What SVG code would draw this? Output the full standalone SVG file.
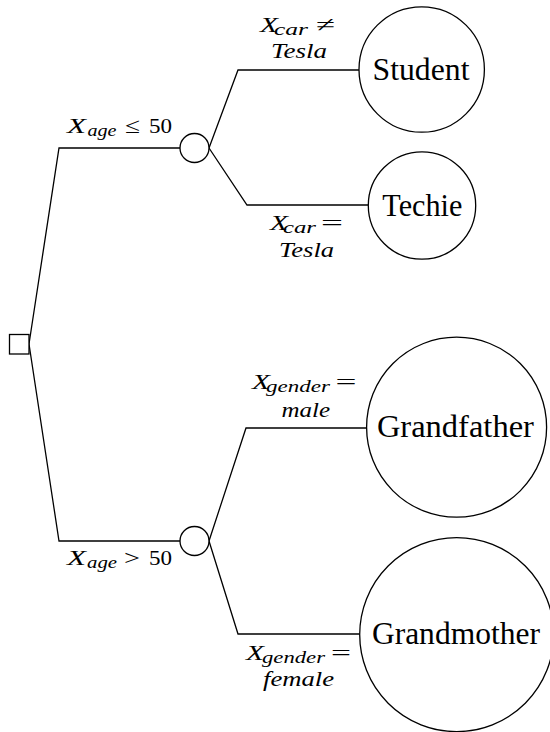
<svg xmlns="http://www.w3.org/2000/svg" width="550" height="732" viewBox="0 0 550 732">
  <style>
    .edge { fill: none; stroke: #000; stroke-width: 1.3; stroke-linejoin: miter; }
    .node { fill: #fff; stroke: #000; stroke-width: 1.3; }
    .serif { font-family: "Liberation Serif", serif; fill: #000; }
    .leaf-label { font-size: 31px; text-anchor: middle; }
    .m { font-style: italic; font-size: 22px; }
    .sub { font-style: italic; font-size: 17px; }
    .op { font-size: 22px; }
  </style>
  <rect width="550" height="732" fill="#fff"/>

  <!-- connectors -->
  <g id="connectors">
    <polyline class="edge" points="29,344 59,148 180,148"/>
    <polyline class="edge" points="29,344 59,541 180,541"/>
    <polyline class="edge" points="209,148 238,70 359,70"/>
    <polyline class="edge" points="209,148 247,205 368,205"/>
    <polyline class="edge" points="209,541 246,428 366.5,428"/>
    <polyline class="edge" points="209,541 238,634 359.5,634"/>
  </g>

  <!-- edge labels -->
  <g id="edge-labels" class="serif">
    <text class="m" x="67" y="133" textLength="19" lengthAdjust="spacingAndGlyphs">X</text>
    <text class="sub" x="87.5" y="136" textLength="29" lengthAdjust="spacingAndGlyphs">age</text>
    <text class="op" x="125" y="133" textLength="15" lengthAdjust="spacingAndGlyphs">≤</text>
    <text class="op" x="149" y="133" textLength="23" lengthAdjust="spacingAndGlyphs">50</text>

    <text class="m" x="67" y="565" textLength="19" lengthAdjust="spacingAndGlyphs">X</text>
    <text class="sub" x="87" y="568" textLength="30" lengthAdjust="spacingAndGlyphs">age</text>
    <text class="op" x="124" y="565" textLength="16" lengthAdjust="spacingAndGlyphs">&gt;</text>
    <text class="op" x="149" y="565" textLength="23" lengthAdjust="spacingAndGlyphs">50</text>

    <text class="m" x="260" y="32" textLength="18" lengthAdjust="spacingAndGlyphs">X</text>
    <text class="sub" x="274" y="35" textLength="34" lengthAdjust="spacingAndGlyphs">car</text>
    <text class="op" x="316" y="32" textLength="19" lengthAdjust="spacingAndGlyphs">≠</text>
    <text class="m" x="271" y="58" textLength="56" lengthAdjust="spacingAndGlyphs">Tesla</text>

    <text class="m" x="270" y="230" textLength="18" lengthAdjust="spacingAndGlyphs">X</text>
    <text class="sub" x="283" y="233" textLength="33" lengthAdjust="spacingAndGlyphs">car</text>
    <text class="op" x="321" y="230" textLength="22" lengthAdjust="spacingAndGlyphs">=</text>
    <text class="m" x="279" y="257" textLength="55" lengthAdjust="spacingAndGlyphs">Tesla</text>

    <text class="m" x="252" y="389" textLength="18" lengthAdjust="spacingAndGlyphs">X</text>
    <text class="sub" x="266" y="392" textLength="64" lengthAdjust="spacingAndGlyphs">gender</text>
    <text class="op" x="335.5" y="389" textLength="21" lengthAdjust="spacingAndGlyphs">=</text>
    <text class="m" x="281.5" y="416.5" textLength="48.5" lengthAdjust="spacingAndGlyphs">male</text>

    <text class="m" x="246" y="660" textLength="18" lengthAdjust="spacingAndGlyphs">X</text>
    <text class="sub" x="262" y="663" textLength="63" lengthAdjust="spacingAndGlyphs">gender</text>
    <text class="op" x="331" y="660" textLength="20" lengthAdjust="spacingAndGlyphs">=</text>
    <text class="m" x="263" y="686" textLength="71" lengthAdjust="spacingAndGlyphs">female</text>
  </g>

  <!-- decision node -->
  <g id="root">
    <rect class="node" x="9.5" y="334.5" width="19.5" height="19.5"/>
  </g>

  <!-- chance nodes -->
  <g id="age-young">
    <circle class="node" cx="194.5" cy="148" r="14.5"/>
  </g>
  <g id="age-old">
    <circle class="node" cx="194.5" cy="541" r="14.5"/>
  </g>

  <!-- outcome nodes -->
  <g class="serif">
    <g id="student">
      <circle class="node" cx="421.7" cy="69.5" r="62.7"/>
      <text class="leaf-label" x="421" y="80" textLength="97" lengthAdjust="spacingAndGlyphs">Student</text>
    </g>
    <g id="techie">
      <circle class="node" cx="422" cy="205.5" r="53.7"/>
      <text class="leaf-label" x="422.3" y="216" textLength="80" lengthAdjust="spacingAndGlyphs">Techie</text>
    </g>
    <g id="grandfather">
      <circle class="node" cx="456.6" cy="427.2" r="90"/>
      <text class="leaf-label" x="455.4" y="437" textLength="157" lengthAdjust="spacingAndGlyphs">Grandfather</text>
    </g>
    <g id="grandmother">
      <circle class="node" cx="456.7" cy="634.6" r="97"/>
      <text class="leaf-label" x="455.9" y="644" textLength="168" lengthAdjust="spacingAndGlyphs">Grandmother</text>
    </g>
  </g>
</svg>
